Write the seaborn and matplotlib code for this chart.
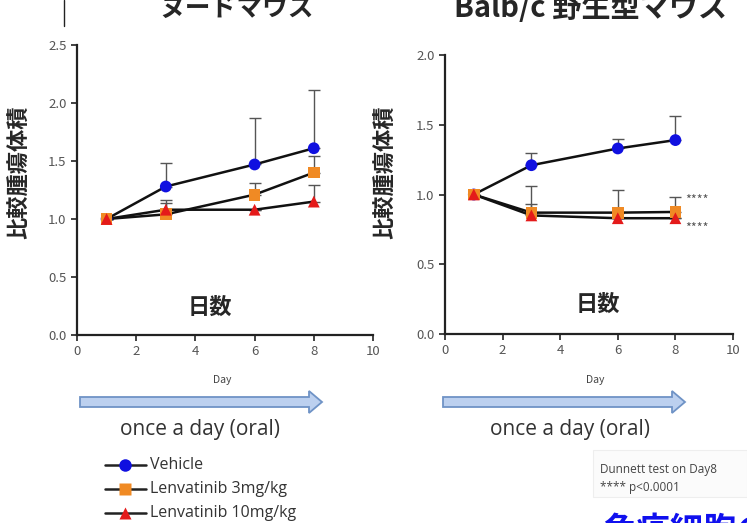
import numpy as np
import pandas as pd
import matplotlib
matplotlib.use("Agg")
import matplotlib.pyplot as plt
from matplotlib.patches import FancyArrow, Rectangle
import seaborn as sns

# ---- data -------------------------------------------------------------
days = [1, 3, 6, 8]
groups = ["Vehicle", "Lenvatinib 3mg/kg", "Lenvatinib 10mg/kg"]

# nude mice: relative tumour volume (mean) and upper SD
nude_vehicle = [1.00, 1.28, 1.47, 1.61]
nude_3mg = [1.00, 1.04, 1.21, 1.40]
nude_10mg = [1.00, 1.08, 1.08, 1.15]
nude_vehicle_err = [0.00, 0.20, 0.40, 0.50]
nude_3mg_err = [0.00, 0.10, 0.10, 0.14]
nude_10mg_err = [0.00, 0.08, 0.00, 0.14]

# Balb/c wild-type mice
balb_vehicle = [1.00, 1.21, 1.33, 1.39]
balb_3mg = [1.00, 0.87, 0.87, 0.875]
balb_10mg = [1.00, 0.85, 0.83, 0.83]
balb_vehicle_err = [0.00, 0.09, 0.07, 0.17]
balb_3mg_err = [0.00, 0.19, 0.16, 0.105]
balb_10mg_err = [0.00, 0.08, 0.00, 0.00]

panel_titles = ["ヌードマウス", "Balb/c 野生型マウス"]
ylabel = "比較腫瘍体積"
inner_label = "日数"
xlabel = "Day"
schedule = "once a day (oral)"
xticks = [0, 2, 4, 6, 8, 10]
left_yticks = [0.0, 0.5, 1.0, 1.5, 2.0, 2.5]
right_yticks = [0.0, 0.5, 1.0, 1.5, 2.0]
sig_marks = ["****", "****"]
sig_levels = [0.96, 0.76]
stats_note = ["Dunnett test on Day8", "**** p<0.0001"]
footer = "免疫細胞の"

colors = {"Vehicle": "#1010e0", "Lenvatinib 3mg/kg": "#f08a24",
          "Lenvatinib 10mg/kg": "#e41a1a"}
markers = {"Vehicle": "o", "Lenvatinib 3mg/kg": "s", "Lenvatinib 10mg/kg": "^"}


def tidy(means, errs):
    rows = []
    for g, m, e in zip(groups, means, errs):
        for d, v, s in zip(days, m, e):
            rows.append({"day": d, "group": g, "rtv": v, "sd": s})
    return pd.DataFrame(rows)


nude_df = tidy([nude_vehicle, nude_3mg, nude_10mg],
               [nude_vehicle_err, nude_3mg_err, nude_10mg_err])
balb_df = tidy([balb_vehicle, balb_3mg, balb_10mg],
               [balb_vehicle_err, balb_3mg_err, balb_10mg_err])

# ---- style ------------------------------------------------------------
sns.set_style("ticks")
plt.rcParams["font.family"] = ["Noto Sans CJK JP", "DejaVu Sans"]

W, H = 747, 523
fig = plt.figure(figsize=(W / 100, H / 100), dpi=100)
ax1 = fig.add_axes([77 / W, 1 - 335 / H, (373 - 77) / W, (335 - 45) / H])
ax2 = fig.add_axes([445 / W, 1 - 334 / H, (733 - 445) / W, (334 - 55) / H])


def draw_panel(ax, df, ymax, yticks):
    # upper error bars first, so markers sit on top
    for g in groups:
        sub = df[df.group == g]
        ax.errorbar(sub.day, sub.rtv, yerr=[np.zeros(len(sub)), sub.sd],
                    fmt="none", ecolor="#555555", elinewidth=1.0,
                    capsize=4, capthick=1.0, zorder=2)
    sns.lineplot(data=df, x="day", y="rtv", units="group", estimator=None,
                 color="#111111", linewidth=1.8, ax=ax, zorder=3,
                 legend=False)
    sns.scatterplot(data=df, x="day", y="rtv", hue="group", style="group",
                    palette=colors, markers=markers, s=72, linewidth=0,
                    ax=ax, zorder=4, legend=False)
    ax.set_xlim(0, 10)
    ax.set_ylim(0, ymax)
    ax.set_xticks(xticks)
    ax.set_yticks(yticks)
    ax.set_yticklabels([f"{t:.1f}" for t in yticks])
    ax.set_xlabel("")
    ax.set_ylabel("")
    ax.tick_params(axis="both", labelsize=9.5, labelcolor="#555555",
                   color="#222222", width=1.2, length=4, direction="out")
    for side in ("left", "bottom"):
        ax.spines[side].set_linewidth(1.6)
        ax.spines[side].set_color("#222222")
    sns.despine(ax=ax)
    ax.set_facecolor("white")


draw_panel(ax1, nude_df, 2.5, left_yticks)
draw_panel(ax2, balb_df, 2.0, right_yticks)

ax1.text(4.49, 0.24, inner_label, fontsize=16, fontweight="bold",
         ha="center", va="center")
ax2.text(5.31, 0.21, inner_label, fontsize=16, fontweight="bold",
         ha="center", va="center")
for lvl, mark in zip(sig_levels, sig_marks):
    ax2.text(8.35, lvl, mark, fontsize=9, color="#555555",
             ha="left", va="center")

# ---- overlay in pixel coordinates for annotations ----------------------
ov = fig.add_axes([0, 0, 1, 1], zorder=10)
ov.set_xlim(0, W)
ov.set_ylim(H, 0)
ov.axis("off")
ov.patch.set_alpha(0)

# panel titles (clipped by the top edge)
ov.text(237, 16, panel_titles[0], fontsize=18.5, fontweight="bold",
        ha="center", va="baseline")
ov.text(590, 17, panel_titles[1], fontsize=21, fontweight="bold",
        ha="center", va="baseline")
ov.plot([64, 64], [0, 26], color="#222222", lw=1)

# rotated y labels
ov.text(20, 172, ylabel, rotation=90, fontsize=16, fontweight="bold",
        ha="center", va="center")
ov.text(386, 172, ylabel, rotation=90, fontsize=16, fontweight="bold",
        ha="center", va="center")

# Day labels
ov.text(222, 380, xlabel, fontsize=7.5, color="#444444", ha="center",
        va="center")
ov.text(595, 380, xlabel, fontsize=7.5, color="#444444", ha="center",
        va="center")

# dosing arrows
for x0 in (80, 443):
    arr = FancyArrow(x0, 402, 242, 0, width=10, head_width=22,
                     head_length=13, length_includes_head=True,
                     facecolor="#bcd0ef", edgecolor="#6f93c6", lw=1.3)
    ov.add_patch(arr)
ov.text(200, 430, schedule, fontsize=15, color="#333333", ha="center",
        va="center", family="Open Sans")
ov.text(570, 430, schedule, fontsize=15, color="#333333", ha="center",
        va="center", family="Open Sans")

# legend
for i, g in enumerate(groups):
    y = 465 + i * 24
    ov.plot([105, 146], [y, y], color="#222222", lw=1.8)
    ov.plot([125], [y], marker=markers[g], color=colors[g],
            markersize=9 if g == "Vehicle" else 8, mec="none")
    ov.text(150, y, g, fontsize=11.5, color="#333333", ha="left",
            va="center", family="Open Sans")

# statistics note
ov.add_patch(Rectangle((593, 450), 154, 47, facecolor="#fbfbfb",
                       edgecolor="#eeeeee", lw=0.8))
ov.text(600, 469, stats_note[0], fontsize=8.5, color="#444444",
        ha="left", va="center", family="Open Sans")
ov.text(600, 487, stats_note[1], fontsize=8.5, color="#444444",
        ha="left", va="center", family="Open Sans")

# footer text (runs off the edge)
ov.text(603, 541, footer, fontsize=24, fontweight="bold", color="#1010ee",
        ha="left", va="baseline")

fig.savefig("out.png", dpi=100, facecolor="white")
